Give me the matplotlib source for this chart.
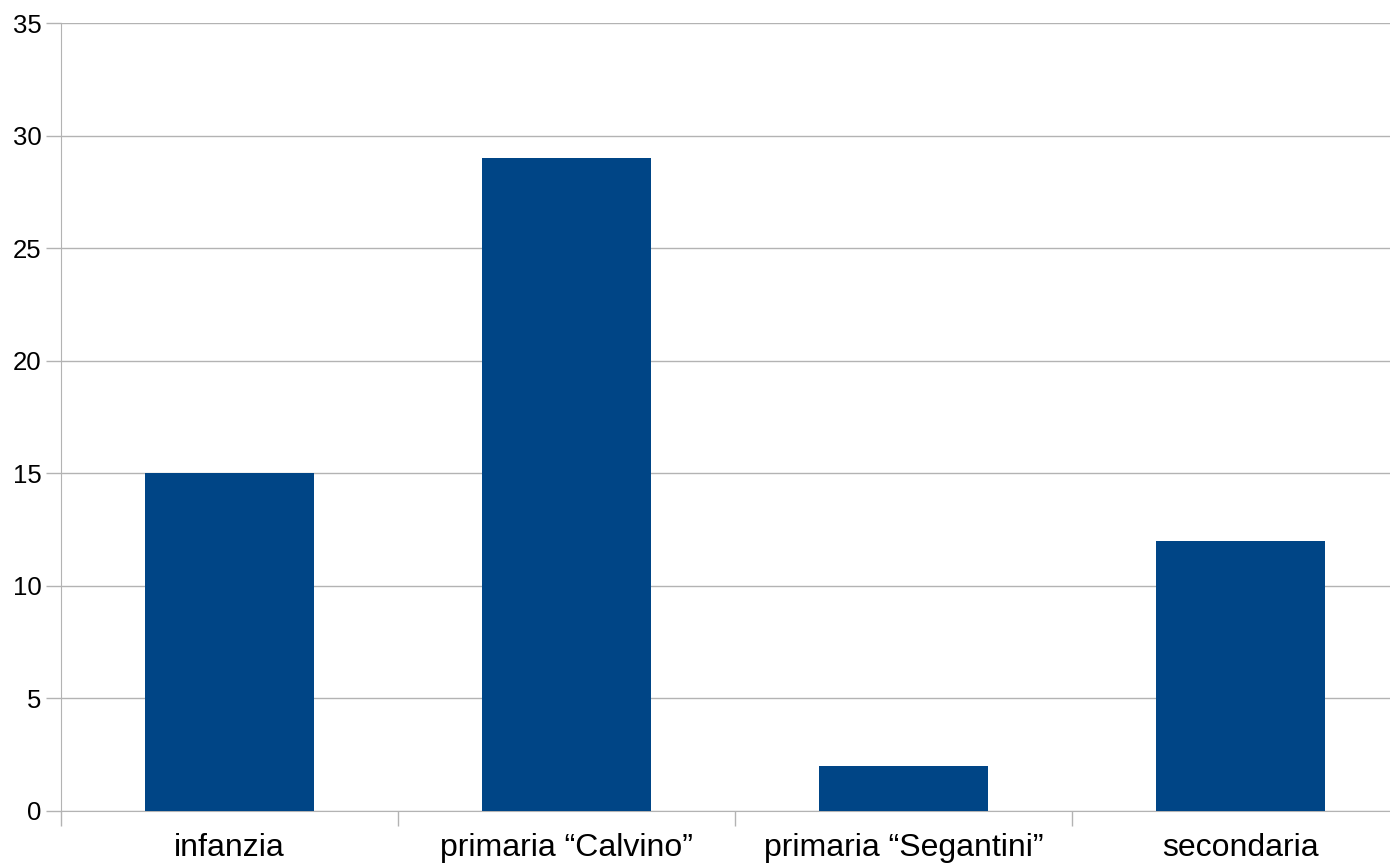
import matplotlib
matplotlib.use("Agg")
import matplotlib.pyplot as plt

categories = ["infanzia", "primaria \u201cCalvino\u201d", "primaria \u201cSegantini\u201d", "secondaria"]
values = [15, 29, 2, 12]
yticks = [0, 5, 10, 15, 20, 25, 30, 35]

plt.rcParams['font.family'] = ['Liberation Sans', 'DejaVu Sans']

W, H = 1390, 865
fig = plt.figure(figsize=(W / 100, H / 100), dpi=100)
left, right, top, bottom = 61, 61 + 4 * 337, 23, 811
ax = fig.add_axes([left / W, (H - bottom) / H, (right - left) / W, (bottom - top) / H])

grid_c = "#b3b3b3"
x = list(range(len(categories)))
ax.bar(x, values, width=0.5, color="#004586", zorder=3)
ax.set_xlim(-0.5, len(categories) - 0.5)
ax.set_ylim(0, 35)
ax.set_yticks(yticks)
ax.yaxis.grid(True, color=grid_c, linewidth=1)
ax.set_axisbelow(True)

for s in ["top", "right"]:
    ax.spines[s].set_visible(False)
ax.spines["left"].set_color(grid_c)
ax.spines["bottom"].set_color(grid_c)

ax.set_xticks([i - 0.5 for i in range(len(categories))])
ax.set_xticklabels([])
ax.set_xticks(x, minor=True)
ax.set_xticklabels(categories, minor=True)
ax.tick_params(axis="x", which="major", length=11, color=grid_c, width=1)
ax.tick_params(axis="x", which="minor", length=0, pad=15.5, labelsize=23)
ax.tick_params(axis="y", length=11, color=grid_c, width=1, pad=3, labelsize=18.5)

fig.savefig("out.png", dpi=100)
